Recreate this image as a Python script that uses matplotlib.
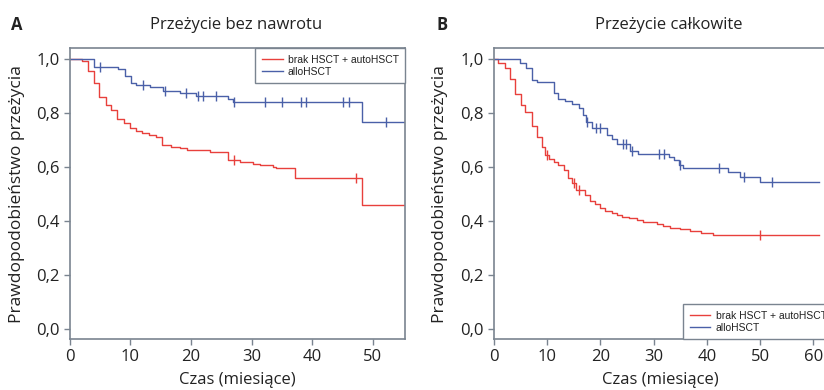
import numpy as np
import matplotlib
matplotlib.use("Agg")
import matplotlib.pyplot as plt
from matplotlib.ticker import FuncFormatter

# --- data (time in months, survival probability) ---
labels = ["brak HSCT + autoHSCT", "alloHSCT"]

# A: Przeżycie bez nawrotu
a_red_t = [0, 2.0, 3.0, 4.0, 4.9, 6.0, 6.9, 7.9, 9.0, 10.0, 11.0, 12.0, 13.1, 14.2,
           15.2, 16.8, 18.2, 19.3, 23.1, 26.1, 28.1, 30.2, 31.4, 33.5, 34.0, 37.1, 48.2]
a_red_s = [1.0, 0.994, 0.957, 0.910, 0.860, 0.830, 0.811, 0.777, 0.764, 0.743, 0.735,
           0.727, 0.719, 0.710, 0.681, 0.675, 0.669, 0.663, 0.657, 0.625, 0.617, 0.611,
           0.606, 0.602, 0.598, 0.558, 0.459]
a_red_cens = [27.1, 47.2]

a_blue_t = [0, 4.1, 8.0, 9.1, 10.1, 11.0, 13.2, 15.4, 18.2, 20.9, 26.1, 26.9, 48.2]
a_blue_s = [1.0, 0.972, 0.962, 0.937, 0.912, 0.904, 0.895, 0.883, 0.873, 0.863,
            0.851, 0.842, 0.768]
a_blue_cens = [5.0, 12.1, 15.8, 19.2, 21.2, 22.0, 24.2, 27.1, 32.2, 35.1, 38.1, 39.0,
               45.1, 46.0, 52.2]
a_end = 55.3

# B: Przeżycie całkowite
b_red_t = [0, 0.8, 2.1, 3.1, 3.9, 5.0, 5.9, 7.1, 8.0, 9.0, 9.6, 10.4, 11.2, 12.1, 13.1,
           13.9, 14.6, 15.5, 17.1, 18.0, 18.9, 19.9, 20.9, 22.1, 23.1, 24.0, 25.3, 26.8,
           28.1, 30.6, 31.8, 33.1, 34.9, 36.8, 39.0, 41.2]
b_red_s = [1.0, 0.984, 0.966, 0.928, 0.870, 0.830, 0.805, 0.752, 0.710, 0.675, 0.646,
           0.630, 0.620, 0.607, 0.590, 0.560, 0.540, 0.515, 0.496, 0.475, 0.462, 0.447,
           0.437, 0.428, 0.422, 0.416, 0.410, 0.404, 0.396, 0.389, 0.381, 0.375, 0.369,
           0.363, 0.354, 0.348]
b_red_cens = [10.0, 15.0, 16.0, 50.0]

b_blue_t = [0, 4.9, 6.0, 7.1, 8.0, 11.2, 12.1, 13.3, 14.6, 15.9, 16.8, 17.2, 18.5, 21.2,
            22.1, 23.1, 25.5, 27.1, 32.9, 33.9, 34.7, 35.6, 44.0, 46.2, 50.0]
b_blue_s = [1.0, 0.985, 0.967, 0.923, 0.914, 0.874, 0.852, 0.843, 0.835, 0.819, 0.794,
            0.768, 0.744, 0.718, 0.703, 0.684, 0.660, 0.648, 0.638, 0.628, 0.607, 0.595,
            0.580, 0.564, 0.543]
b_blue_cens = [17.5, 19.2, 19.9, 24.2, 24.9, 25.9, 31.1, 32.0, 35.0, 42.2, 46.9, 52.2]
b_end = 61.0

yticks = [0.0, 0.2, 0.4, 0.6, 0.8, 1.0]
a_xticks = [0, 10, 20, 30, 40, 50]
b_xticks = [0, 10, 20, 30, 40, 50, 60]

RED = "#e8403c"
BLUE = "#4a60a8"
SPINE = "#7a8490"
TEXT = "#222222"

plt.rcParams["font.family"] = ["Open Sans", "DejaVu Sans"]
legend_font = ["Liberation Sans", "DejaVu Sans"]


def km(ax, t, s, cens, end, color, label):
    t = np.asarray(t)
    s = np.asarray(s)
    ax.step(np.append(t, end), np.append(s, s[-1]), where="post",
            color=color, lw=1.0, label=label)
    idx = np.searchsorted(t, cens, side="right") - 1
    ax.plot(cens, s[idx], ls="none", marker="|", ms=7, mew=1.0, color=color)


def style(ax, xlim, xticks):
    ax.set_xlim(*xlim)
    ax.set_ylim(-0.037, 1.04)
    ax.set_xticks(xticks)
    ax.set_yticks(yticks)
    ax.yaxis.set_major_formatter(FuncFormatter(lambda v, p: f"{v:.1f}".replace(".", ",")))
    for sp in ax.spines.values():
        sp.set_color(SPINE)
        sp.set_linewidth(1.2)
    ax.tick_params(direction="out", length=4.3, width=1.0, color=SPINE,
                   labelsize=12, labelcolor=TEXT, pad=3)
    ax.set_xlabel("Czas (miesiące)", fontsize=12, color=TEXT, labelpad=5)
    ax.set_ylabel("Prawdopodobieństwo przeżycia", fontsize=12.5, color=TEXT)


W, H = 824, 390
fig = plt.figure(figsize=(W / 100, H / 100), dpi=100)

axA = fig.add_axes([69.5 / W, 51 / H, (405 - 69.5) / W, (339 - 48.3) / H])
km(axA, a_red_t, a_red_s, a_red_cens, a_end, RED, labels[0])
km(axA, a_blue_t, a_blue_s, a_blue_cens, a_end, BLUE, labels[1])
style(axA, (0, 55.3), a_xticks)
axA.yaxis.set_label_coords(-44 / (405 - 69.5), 0.5)

b_xmax = 62.5
axB = fig.add_axes([494 / W, 51 / H, b_xmax * 5.32 / W, (339 - 48.3) / H])
km(axB, b_red_t, b_red_s, b_red_cens, b_end, RED, labels[0])
km(axB, b_blue_t, b_blue_s, b_blue_cens, b_end, BLUE, labels[1])
style(axB, (0, b_xmax), b_xticks)
axB.yaxis.set_label_coords(-46 / (b_xmax * 5.32), 0.5)

leg_kw = dict(prop={"family": legend_font, "size": 7.5}, frameon=True, fancybox=False,
              framealpha=1, edgecolor=SPINE, handlelength=2.0, handletextpad=0.5,
              labelspacing=0.2, borderpad=0.6, borderaxespad=0)
legA = axA.legend(loc="upper right", bbox_to_anchor=(1, 1), **leg_kw)
legB = axB.legend(loc="lower left", bbox_to_anchor=(683.3 / W, 51 / H),
                  bbox_transform=fig.transFigure, **leg_kw)
for leg in (legA, legB):
    leg.get_frame().set_linewidth(1.0)
    for txt in leg.get_texts():
        txt.set_color(TEXT)

fig.text(236 / W, 1 - 25 / H, "Przeżycie bez nawrotu", ha="center", va="center",
         fontsize=12, color=TEXT)
fig.text(669 / W, 1 - 25 / H, "Przeżycie całkowite", ha="center", va="center",
         fontsize=12, color=TEXT)
fig.text(11 / W, 1 - 25 / H, "A", ha="left", va="center", fontsize=12,
         fontweight="bold", color=TEXT)
fig.text(436 / W, 1 - 25 / H, "B", ha="left", va="center", fontsize=12,
         fontweight="bold", color=TEXT)

fig.savefig("out.png", dpi=100)
